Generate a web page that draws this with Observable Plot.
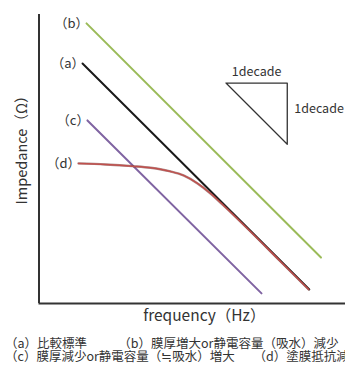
<!DOCTYPE html>
<html><head><meta charset="utf-8">
<script src="https://cdn.jsdelivr.net/npm/d3@7"></script>
<script src="https://cdn.jsdelivr.net/npm/@observablehq/plot@0.6"></script>
<style>body{margin:0;background:#fff;overflow:hidden}</style>
</head><body><div id="chart"></div>
<script>
// Values, as log10(frequency) and log10(impedance)
const seriesNames = ["（a）", "（b）", "（c）", "（d）"];
const seriesColors = ["#1a1a1a", "#9bbb59", "#8064a2", "#c0504d"];
const logFreqA = [0.71, 4.41];
const logImpA = [3.92, 0.23];
const logFreqB = [0.775, 4.60];
const logImpB = [4.575, 0.75];
const logFreqC = [0.79, 3.63];
const logImpC = [2.99, 0.165];
const logFreqD = [0.645, 1.085, 1.525, 1.82, 2.145, 2.357, 2.586, 2.798, 3.01, 3.45, 3.94, 4.40];
const logImpD = [2.288, 2.271, 2.243, 2.217, 2.157, 2.092, 1.961, 1.797, 1.601, 1.176, 0.686, 0.229];
const triangleLogFreq = [3.05, 4.05, 4.05, 3.05];
const triangleLogImp = [3.6, 3.6, 2.6, 3.6];
const decadeLabel = "1decade";
const xLabel = "frequency（Hz）";
const yLabel = "Impedance（Ω）";
const captionLines = [
  "（a）比較標準　　　（b）膜厚増大or静電容量（吸水）減少",
  "（c）膜厚減少or静電容量（≒吸水）増大　　（d）塗膜抵抗減少"
];
const xDomainLog = [0, 5];
const yDomainLog = [0, 4.72];

const toRows = (name, lf, li) => lf.map((f, i) => ({series: name, f: 10 ** f, z: 10 ** li[i]}));
const seriesData = [
  toRows(seriesNames[0], logFreqA, logImpA),
  toRows(seriesNames[1], logFreqB, logImpB),
  toRows(seriesNames[2], logFreqC, logImpC),
  toRows(seriesNames[3], logFreqD, logImpD)
];
const straight = seriesData.slice(0, 3).flat();
const curved = seriesData[3];
const starts = seriesData.map(s => s[0]);
const tri = triangleLogFreq.map((f, i) => ({f: 10 ** f, z: 10 ** triangleLogImp[i]}));
const triTop = {f: 10 ** ((triangleLogFreq[0] + triangleLogFreq[1]) / 2), z: 10 ** triangleLogImp[0]};
const triRight = {f: 10 ** triangleLogFreq[1], z: 10 ** ((triangleLogImp[1] + triangleLogImp[2]) / 2)};
const xMin = 10 ** xDomainLog[0], yMin = 10 ** yDomainLog[0];
const textColor = "#333";

const chart = Plot.plot({
  width: 345,
  height: 369,
  marginLeft: 38.5,
  marginRight: 0,
  marginTop: 14,
  marginBottom: 66,
  style: {fontFamily: '"Noto Sans CJK JP", "Noto Sans", sans-serif', background: "#fff", overflow: "visible"},
  x: {type: "log", domain: xDomainLog.map(v => 10 ** v), axis: null},
  y: {type: "log", domain: yDomainLog.map(v => 10 ** v), axis: null},
  color: {domain: seriesNames, range: seriesColors},
  marks: [
    Plot.ruleX([xMin], {stroke: "#333", strokeWidth: 2}),
    Plot.ruleY([yMin], {stroke: "#333", strokeWidth: 2}),
    Plot.line(straight, {x: "f", y: "z", z: "series", stroke: "series", strokeWidth: 2}),
    Plot.line(curved, {x: "f", y: "z", stroke: "#6b3331", strokeWidth: 2.4, strokeOpacity: 0.55, curve: "monotone-x"}),
    Plot.line(curved, {x: "f", y: "z", stroke: "series", strokeWidth: 1.5, curve: "monotone-x"}),
    Plot.line(tri, {x: "f", y: "z", stroke: "#333", strokeWidth: 1.3}),
    Plot.text(starts, {x: "f", y: "z", text: "series", textAnchor: "end", dx: 2, fontSize: 13, fill: textColor}),
    Plot.text([triTop], {x: "f", y: "z", text: () => decadeLabel, dy: -11, fontSize: 12.5, fill: textColor}),
    Plot.text([triRight], {x: "f", y: "z", text: () => decadeLabel, textAnchor: "start", dx: 7, dy: -5, fontSize: 12.5, fill: textColor}),
    Plot.text([xLabel], {frameAnchor: "bottom", dx: 12, dy: 17, fontSize: 15.5, fill: textColor}),
    Plot.text([yLabel], {frameAnchor: "left", textAnchor: "middle", rotate: -90, dx: -17, dy: -12.5, fontSize: 14.5, fill: textColor}),
    Plot.text([captionLines[0]], {frameAnchor: "bottom-left", textAnchor: "start", dx: -34, dy: 44, fontSize: 12.5, fill: textColor}),
    Plot.text([captionLines[1]], {frameAnchor: "bottom-left", textAnchor: "start", dx: -34, dy: 57, fontSize: 12.5, fill: textColor})
  ]
});
document.getElementById("chart").append(chart);
</script>
</body></html>
